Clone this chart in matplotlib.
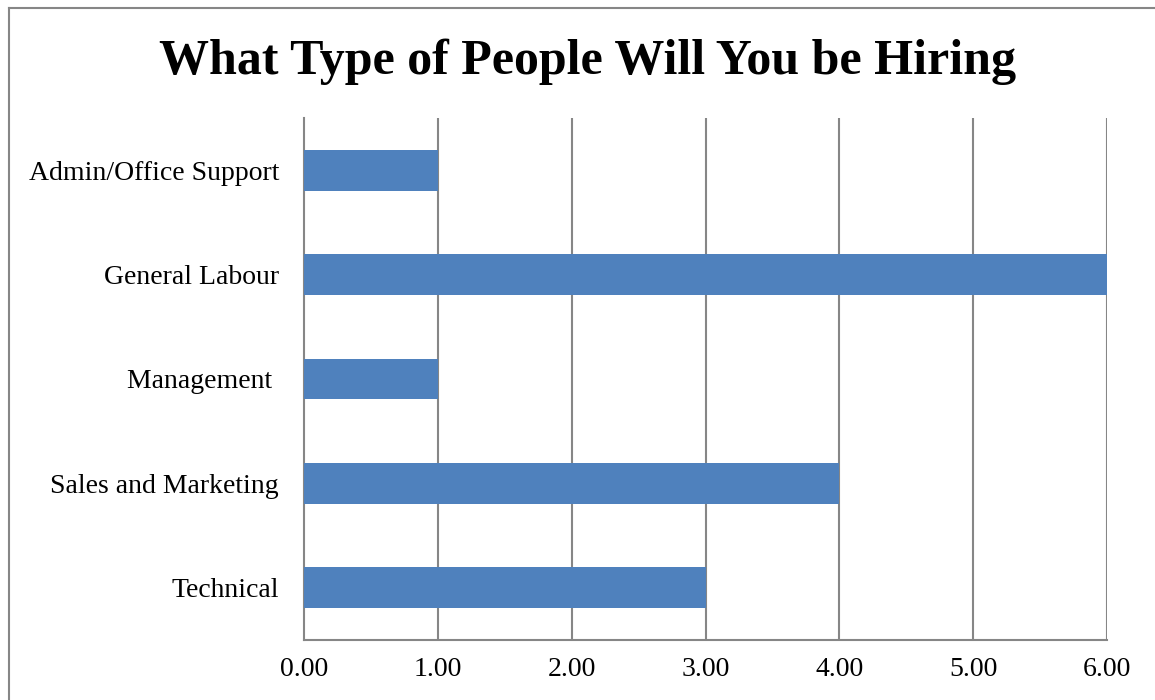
import matplotlib
matplotlib.use("Agg")
import matplotlib.pyplot as plt
from matplotlib.lines import Line2D

categories = ["Admin/Office Support", "General Labour", "Management ", "Sales and Marketing", "Technical"]
values = [1, 6, 1, 4, 3]
xticks = [0, 1, 2, 3, 4, 5, 6]
title = "What Type of People Will You be Hiring"

W, H = 1155, 700
fig = plt.figure(figsize=(W / 100, H / 100), dpi=100)
plt.rcParams['font.family'] = ['Liberation Serif', 'DejaVu Serif']

# axes position in pixels
x0, x1 = 304, 1107
y_top, y_bot = 118, 640
ax = fig.add_axes([x0 / W, 1 - y_bot / H, (x1 - x0) / W, (y_bot - y_top) / H])

grid_c = "#868686"
bar_c = "#4F81BD"

pos = list(range(len(categories)))[::-1]
ax.barh(pos, values, height=0.39, color=bar_c, zorder=3)
ax.set_ylim(-0.5, len(categories) - 0.5)
ax.set_xlim(0, 6)
ax.set_yticks(pos)
ax.set_yticklabels(categories, fontsize=20)
ax.set_xticks(xticks)
ax.set_xticklabels([f"{v:.2f}" for v in xticks], fontsize=20)
ax.tick_params(axis='both', length=0)
ax.tick_params(axis='x', pad=12)
ax.tick_params(axis='y', pad=18)
for v in xticks[1:]:
    ax.axvline(v, color=grid_c, lw=1.5, zorder=1)
for s in ['top', 'right']:
    ax.spines[s].set_visible(False)
for s in ['left', 'bottom']:
    ax.spines[s].set_color(grid_c)
    ax.spines[s].set_linewidth(1.5)

fig.text(588 / W, 1 - 62 / H, title, ha='center', va='center', fontsize=36, fontweight='bold')

# outer frame
fig.add_artist(Line2D([9 / W, 1], [1 - 8 / H, 1 - 8 / H], transform=fig.transFigure, color=grid_c, lw=1.5))
fig.add_artist(Line2D([9 / W, 9 / W], [0, 1 - 8 / H], transform=fig.transFigure, color=grid_c, lw=1.5))

fig.savefig("out.png", dpi=100)
